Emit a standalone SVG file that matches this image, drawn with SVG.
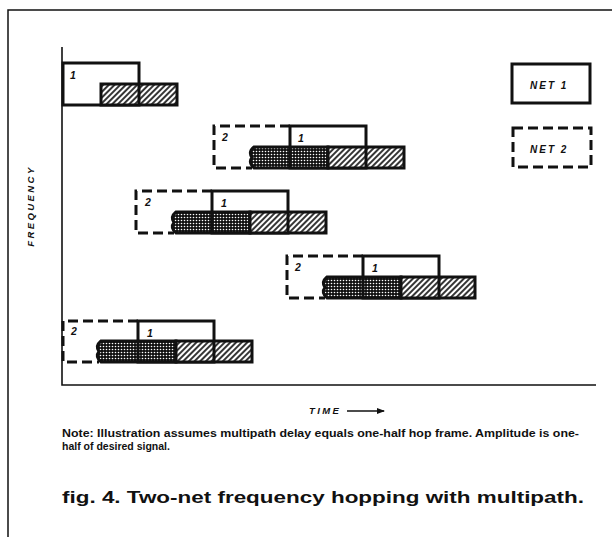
<svg xmlns="http://www.w3.org/2000/svg" width="612" height="537" viewBox="0 0 612 537">
<style>
.frame{fill:none;stroke:#111;stroke-width:1.5}
.axis{fill:none;stroke:#111;stroke-width:1.6}
.box{fill:none;stroke:#111;stroke-width:3}
.dash{fill:none;stroke:#111;stroke-width:3;stroke-dasharray:10 5}
.hb{fill:url(#hatch);stroke:#111;stroke-width:3}
.db{fill:url(#dots);stroke:#111;stroke-width:3}
.div{stroke:#111;stroke-width:3}
.lbl{font-family:"Liberation Sans",Arial,sans-serif;font-style:italic;font-weight:bold;font-size:10.5px;fill:#111}
.leg{font-family:"Liberation Sans",Arial,sans-serif;font-style:italic;font-weight:bold;font-size:10px;fill:#111;letter-spacing:2px}
.ax{font-family:"Liberation Sans",Arial,sans-serif;font-style:italic;font-weight:bold;font-size:9.5px;fill:#111;letter-spacing:2.4px}
.note{font-family:"Liberation Sans",Arial,sans-serif;font-weight:bold;font-size:10.5px;fill:#111}
.cap{font-family:"Liberation Sans",Arial,sans-serif;font-weight:bold;font-size:16.5px;fill:#111}
</style>
<defs>
<pattern id="hatch" width="4" height="4" patternUnits="userSpaceOnUse" patternTransform="rotate(45)"><rect width="4" height="4" fill="#fff"/><line x1="1" y1="0" x2="1" y2="4" stroke="#111" stroke-width="1.7"/></pattern>
<pattern id="dots" width="3" height="3" patternUnits="userSpaceOnUse"><rect width="3" height="3" fill="#111"/><circle cx="1.5" cy="1.5" r="0.8" fill="#fff"/></pattern>
<marker id="arr" markerWidth="8" markerHeight="6" refX="7" refY="3" orient="auto" markerUnits="userSpaceOnUse"><path d="M0,0 L8,3 L0,6 Z" fill="#111"/></marker>
</defs>
<rect width="612" height="537" fill="#fff"/>
<path class="frame" d="M612,10 H8 V537"/>
<g id="axes">
<path class="axis" d="M62,47 V385 H596"/>
<text class="ax" transform="translate(34,206) rotate(-90)" text-anchor="middle">FREQUENCY</text>
<text class="ax" x="309" y="414">TIME</text>
<line x1="347" y1="411" x2="384" y2="411" stroke="#111" stroke-width="1.3" marker-end="url(#arr)"/>
</g>
<g id="row1">
<rect class="box" x="63" y="63" width="76" height="42"/>
<rect class="hb" x="101" y="84" width="76" height="21"/>
<line class="div" x1="139" y1="84" x2="139" y2="105"/>
<text class="lbl" x="70" y="79">1</text>
</g>
<g id="row2">
<path class="dash" d="M290,126 H214 V168 H252"/>
<rect class="box" x="290" y="126" width="76" height="42"/>
<path class="db" d="M254,147 H328 V168 H254 Q248,162.5 252,157.5 Q248,152 254,147 Z"/>
<rect class="hb" x="328" y="147" width="76" height="21"/>
<line class="div" x1="290" y1="147" x2="290" y2="168"/>
<line class="div" x1="366" y1="147" x2="366" y2="168"/>
<text class="lbl" x="222" y="141">2</text>
<text class="lbl" x="298" y="142">1</text>
</g>
<g id="row3">
<path class="dash" d="M212,191 H136 V233 H174"/>
<rect class="box" x="212" y="191" width="76" height="42"/>
<path class="db" d="M176,212 H250 V233 H176 Q170,227.5 174,222.5 Q170,217 176,212 Z"/>
<rect class="hb" x="250" y="212" width="76" height="21"/>
<line class="div" x1="212" y1="212" x2="212" y2="233"/>
<line class="div" x1="288" y1="212" x2="288" y2="233"/>
<text class="lbl" x="145" y="206">2</text>
<text class="lbl" x="221" y="207">1</text>
</g>
<g id="row4">
<path class="dash" d="M363,256 H287 V298 H325"/>
<rect class="box" x="363" y="256" width="76" height="42"/>
<path class="db" d="M327,277 H401 V298 H327 Q321,292.5 325,287.5 Q321,282 327,277 Z"/>
<rect class="hb" x="401" y="277" width="74" height="21"/>
<line class="div" x1="363" y1="277" x2="363" y2="298"/>
<line class="div" x1="439" y1="277" x2="439" y2="298"/>
<text class="lbl" x="295" y="271">2</text>
<text class="lbl" x="372" y="272">1</text>
</g>
<g id="row5">
<path class="dash" d="M138,321 H63 V362 H99"/>
<rect class="box" x="138" y="321" width="76" height="41"/>
<path class="db" d="M101,341 H176 V362 H101 Q95,356.5 99,351.5 Q95,346 101,341 Z"/>
<rect class="hb" x="176" y="341" width="76" height="21"/>
<line class="div" x1="138" y1="341" x2="138" y2="362"/>
<line class="div" x1="214" y1="341" x2="214" y2="362"/>
<text class="lbl" x="71" y="335">2</text>
<text class="lbl" x="147" y="337">1</text>
</g>
<g id="legend-net1">
<rect class="box" x="512" y="64" width="78" height="39"/>
<text class="leg" x="530" y="89">NET  1</text>
</g>
<g id="legend-net2">
<rect class="dash" x="513" y="128" width="78" height="39"/>
<text class="leg" x="530" y="153">NET  2</text>
</g>
<g id="notes">
<text class="note" x="62" y="437" textLength="517" lengthAdjust="spacingAndGlyphs">Note: Illustration assumes multipath delay equals one-half hop frame. Amplitude is one-</text>
<text class="note" x="62" y="450">half of desired signal.</text>
<text class="cap" x="62" y="503" textLength="522" lengthAdjust="spacingAndGlyphs">fig. 4. Two-net frequency hopping with multipath.</text>
</g>
</svg>
